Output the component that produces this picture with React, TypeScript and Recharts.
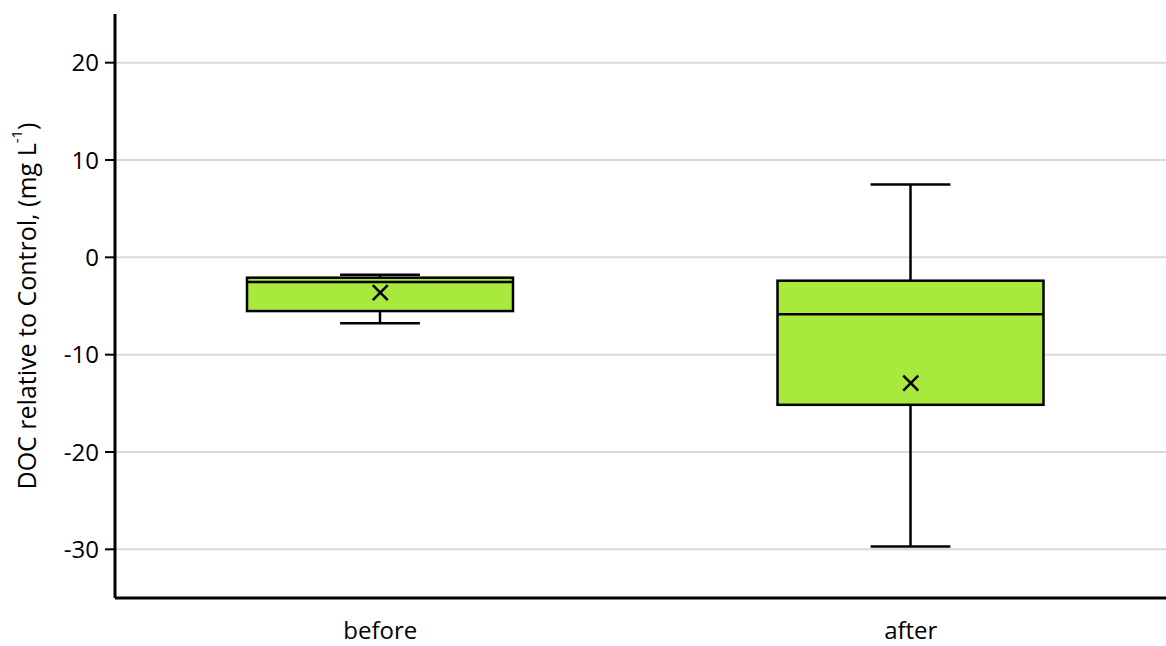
import React from "react";
import {
  ComposedChart,
  Bar,
  Scatter,
  XAxis,
  YAxis,
  CartesianGrid,
} from "recharts";

const groups = ["before", "after"];
const minVals = [-6.76, -29.7];
const q1Vals = [-5.52, -15.15];
const medianVals = [-2.54, -5.86];
const q3Vals = [-2.09, -2.4];
const maxVals = [-1.78, 7.48];
const meanVals = [-3.63, -12.93];
const yTicks = [-30, -20, -10, 0, 10, 20];

const data = groups.map((g, i) => ({
  name: g,
  range: [minVals[i], maxVals[i]],
  min: minVals[i],
  q1: q1Vals[i],
  median: medianVals[i],
  q3: q3Vals[i],
  max: maxVals[i],
  mean: meanVals[i],
}));

const FONT = "'Open Sans', sans-serif";
const BOX_FILL = "#a9e83c";

// draws whiskers + box inside the pixel span the library gives for [min, max]
const BoxShape = (props: any) => {
  const { x, y, width, height, payload } = props;
  const top = Math.min(y, y + height);
  const h = Math.abs(height);
  const { min, max, q1, q3, median } = payload;
  const toY = (v: number) => top + ((max - v) / (max - min)) * h;
  const cx = x + width / 2;
  const capW = width * 0.3;
  const yMax = toY(max);
  const yMin = toY(min);
  const yQ1 = toY(q1);
  const yQ3 = toY(q3);
  const yMed = toY(median);
  return (
    <g stroke="#000" strokeWidth={2.5}>
      <line x1={cx} x2={cx} y1={yMax} y2={yQ3} />
      <line x1={cx} x2={cx} y1={yQ1} y2={yMin} />
      <line x1={cx - capW / 2} x2={cx + capW / 2} y1={yMax} y2={yMax} />
      <line x1={cx - capW / 2} x2={cx + capW / 2} y1={yMin} y2={yMin} />
      <rect x={x} y={yQ3} width={width} height={yQ1 - yQ3} fill={BOX_FILL} />
      <line x1={x} x2={x + width} y1={yMed} y2={yMed} />
    </g>
  );
};

const MeanMark = (props: any) => {
  const { cx, cy } = props;
  const s = 7.5;
  return (
    <g stroke="#000" strokeWidth={2.5}>
      <line x1={cx - s} y1={cy - s} x2={cx + s} y2={cy + s} />
      <line x1={cx - s} y1={cy + s} x2={cx + s} y2={cy - s} />
    </g>
  );
};

const YLabel = (props: any) => {
  const { viewBox } = props;
  const cy = viewBox.y + viewBox.height / 2;
  const cx = 26;
  return (
    <text
      x={cx}
      y={cy}
      transform={`rotate(-90, ${cx}, ${cy})`}
      textAnchor="middle"
      dominantBaseline="central"
      fontFamily={FONT}
      fontSize={25}
      fill="#000"
    >
      DOC relative to Control, (mg L
      <tspan baselineShift="super" fontSize={15}>-1</tspan>
      )
    </text>
  );
};

export default function App() {
  return (
    <div style={{ width: 1166, height: 646, overflow: "hidden", background: "#fff" }}>
      <style>{"body{margin:0}"}</style>
      <ComposedChart
        width={1180}
        height={646}
        data={data}
        margin={{ top: 14, right: 4, bottom: 0, left: 0 }}
      >
        <CartesianGrid
          vertical={false}
          horizontalValues={yTicks}
          stroke="#d9d9d9"
          strokeWidth={2}
        />
        <XAxis
          dataKey="name"
          axisLine={{ stroke: "#000", strokeWidth: 3 }}
          tickLine={false}
          tickSize={0}
          tickMargin={24}
          height={48}
          tick={{ fill: "#000", fontSize: 24, fontFamily: FONT }}
        />
        <YAxis
          domain={[-35, 25]}
          ticks={yTicks}
          width={115}
          axisLine={{ stroke: "#000", strokeWidth: 3 }}
          tickLine={{ stroke: "#000", strokeWidth: 2 }}
          tickSize={10}
          tickMargin={6}
          tick={{ fill: "#000", fontSize: 24, fontFamily: FONT }}
          label={<YLabel />}
        />
        <Bar
          dataKey="range"
          barSize={266}
          shape={<BoxShape />}
          isAnimationActive={false}
        />
        <Scatter dataKey="mean" shape={<MeanMark />} isAnimationActive={false} />
      </ComposedChart>
    </div>
  );
}
